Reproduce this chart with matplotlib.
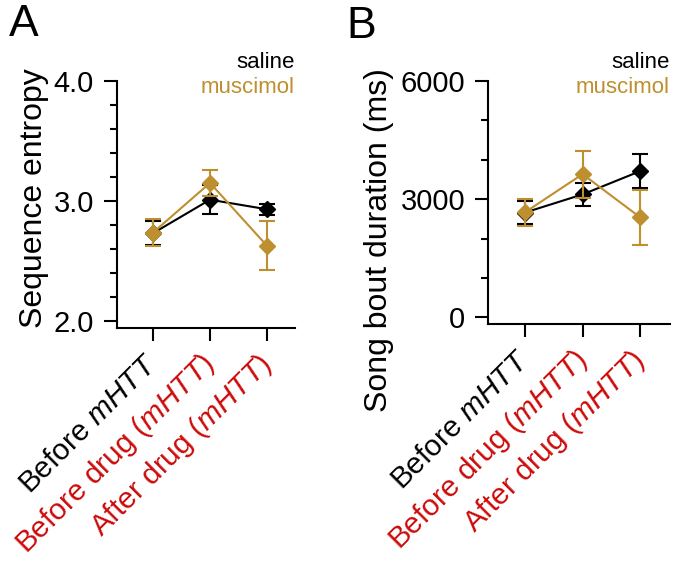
import matplotlib
matplotlib.use('Agg')
import matplotlib.pyplot as plt

plt.rcParams['font.family'] = ['Liberation Sans', 'DejaVu Sans']
plt.rcParams['mathtext.fontset'] = 'custom'
plt.rcParams['mathtext.rm'] = 'Liberation Sans'
plt.rcParams['mathtext.it'] = 'Liberation Sans:italic'

# data
groups = ['Before $\\it{mHTT}$', 'Before drug ($\\it{mHTT}$)', 'After drug ($\\it{mHTT}$)']
group_colors = ['black', '#CC0A0A', '#CC0A0A']

entropy_saline = [2.73, 3.01, 2.93]
entropy_saline_err = [0.10, 0.12, 0.045]
entropy_muscimol = [2.735, 3.15, 2.625]
entropy_muscimol_err = [0.11, 0.105, 0.205]

bout_saline = [2660, 3120, 3710]
bout_saline_err = [300, 290, 435]
bout_muscimol = [2665, 3635, 2540]
bout_muscimol_err = [350, 600, 700]

saline_color = 'black'
muscimol_color = '#BE8F2F'

fig = plt.figure(figsize=(6.74, 5.61), dpi=100)
W, H = 674, 561


def axes_px(x0, x1, ytop, ybot):
    return fig.add_axes([x0 / W, 1 - ybot / H, (x1 - x0) / W, (ybot - ytop) / H])


def draw(ax, sal, sal_err, mus, mus_err, ytop, ybot):
    xs = range(len(groups))
    ax.errorbar(xs, sal, yerr=sal_err, color=saline_color, marker='D', ms=8,
                lw=1.5, capsize=6, capthick=1.5, elinewidth=1.5, zorder=3)
    ax.errorbar(xs, mus, yerr=mus_err, color=muscimol_color, marker='D', ms=8,
                lw=1.5, capsize=6, capthick=1.5, elinewidth=1.5, zorder=4)
    for s in ['top', 'right']:
        ax.spines[s].set_visible(False)
    for s in ['left', 'bottom']:
        ax.spines[s].set_linewidth(1.5)
    ax.set_xticks(list(xs))
    ax.set_xticklabels(groups, rotation=45, ha='right', va='center',
                       rotation_mode='anchor', fontsize=21.5)
    for lab, c in zip(ax.get_xticklabels(), group_colors):
        lab.set_color(c)
    ax.tick_params(axis='x', length=9, width=1.5, pad=14)
    ax.tick_params(axis='y', which='major', length=9.5, width=1.5, labelsize=21, pad=7)
    ax.tick_params(axis='y', which='minor', length=5, width=1.5)
    hgt = ybot - ytop
    ax.text(1.0, (ybot - 68) / hgt, 'saline', transform=ax.transAxes, ha='right',
            va='baseline', fontsize=16, color=saline_color)
    ax.text(1.0, (ybot - 93) / hgt, 'muscimol', transform=ax.transAxes, ha='right',
            va='baseline', fontsize=16, color=muscimol_color)


# panel A
axA = axes_px(117, 295, 81, 328)
draw(axA, entropy_saline, entropy_saline_err, entropy_muscimol, entropy_muscimol_err, 81, 328)
axA.set_xlim(-0.63, 2.49)
axA.set_ylim(1.94, 4.0)
axA.set_yticks([2.0, 3.0, 4.0])
axA.set_yticklabels(['2.0', '3.0', '4.0'])
axA.set_yticks([2.2, 2.4, 2.6, 2.8, 3.2, 3.4, 3.6, 3.8], minor=True)
fig.text(34 / W, 1 - 198 / H, 'Sequence entropy', rotation=90, ha='center',
         va='center', fontsize=23)
fig.text(24 / W, 1 - 24 / H, 'A', ha='center', va='center', fontsize=32)

# panel B
axB = axes_px(488, 670, 81, 324)
draw(axB, bout_saline, bout_saline_err, bout_muscimol, bout_muscimol_err, 81, 324)
axB.set_xlim(-0.643, 2.52)
axB.set_ylim(-170, 6000)
axB.set_yticks([0, 3000, 6000])
axB.set_yticks([1000, 2000, 4000, 5000], minor=True)
fig.text(379 / W, 1 - 240 / H, 'Song bout duration (ms)', rotation=90,
         ha='center', va='center', fontsize=23)
fig.text(361 / W, 1 - 26 / H, 'B', ha='center', va='center', fontsize=32)

fig.savefig('out.png', dpi=100)
